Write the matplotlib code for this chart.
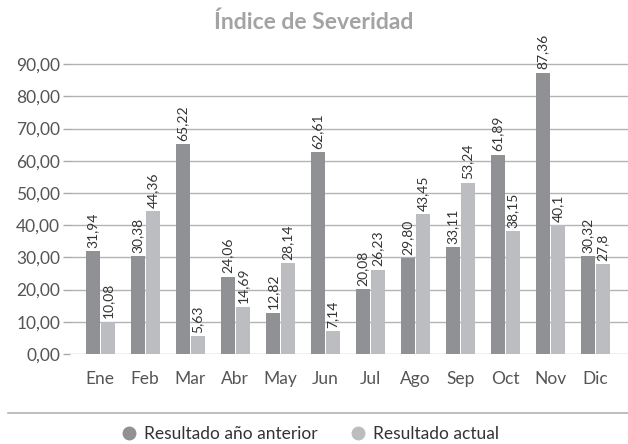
import matplotlib
matplotlib.use("Agg")
import matplotlib.pyplot as plt
from matplotlib.lines import Line2D
import numpy as np

months = ["Ene", "Feb", "Mar", "Abr", "May", "Jun", "Jul", "Ago", "Sep", "Oct", "Nov", "Dic"]
prev_year = [31.94, 30.38, 65.22, 24.06, 12.82, 62.61, 20.08, 29.80, 33.11, 61.89, 87.36, 30.32]
prev_labels = ["31,94", "30,38", "65,22", "24,06", "12,82", "62,61", "20,08", "29,80", "33,11", "61,89", "87,36", "30,32"]
current = [10.08, 44.36, 5.63, 14.69, 28.14, 7.14, 26.23, 43.45, 53.24, 38.15, 40.1, 27.8]
current_labels = ["10,08", "44,36", "5,63", "14,69", "28,14", "7,14", "26,23", "43,45", "53,24", "38,15", "40,1", "27,8"]
series_names = ["Resultado año anterior", "Resultado actual"]
yticks = [0, 10, 20, 30, 40, 50, 60, 70, 80, 90]

plt.rcParams['font.family'] = ['Lato', 'DejaVu Sans']

dark = "#909195"
light = "#bcbdc0"
txt = "#555555"

fig = plt.figure(figsize=(6.28, 4.44), dpi=100)
ax = fig.add_axes([70/628, 1-354/444, 1-70/628, (354-48)/444])

x = np.arange(len(months))
w = 0.31
ax.bar(x - w/2 - 0.01, prev_year, w, color=dark, zorder=3)
ax.bar(x + w/2 + 0.01, current, w, color=light, zorder=3)

for xi, v, lab in zip(x, prev_year, prev_labels):
    ax.text(xi - w/2 - 0.01, v + 1.0, lab, rotation=90, ha="center", va="bottom",
            fontsize=10, color="#333333")
for xi, v, lab in zip(x, current, current_labels):
    ax.text(xi + w/2 + 0.01, v + 1.0, lab, rotation=90, ha="center", va="bottom",
            fontsize=10, color="#333333")

ax.set_xlim(-0.67, 11.73)
ax.set_ylim(0, 95)
ax.set_yticks(yticks)
ax.set_yticklabels([f"{t:.2f}".replace(".", ",") for t in yticks], fontsize=12.5,
                   color=txt)
ax.set_xticks(x)
ax.set_xticklabels(months, fontsize=12.5, color=txt)
ax.tick_params(axis="x", length=0, pad=12)
ax.tick_params(axis="y", length=5, width=1, color="#aaaaaa", pad=2)
for t in yticks:
    ax.axhline(t, color="#b3b3b3", lw=1.0, zorder=1)
for s in ax.spines.values():
    s.set_visible(False)

fig.text(0.5, 1-22/444, "Índice de Severidad", ha="center", va="center",
         fontsize=16.5, fontweight="bold", color="#a3a3a3")

fig.add_artist(Line2D([8/628, 1.0], [1-413/444, 1-413/444], color="#b3b3b3", lw=1.2))

handles = [Line2D([], [], marker="o", ls="", markersize=9, color=dark),
           Line2D([], [], marker="o", ls="", markersize=9, color=light)]
fig.legend(handles, series_names, loc="center", bbox_to_anchor=(0.49, 1-434/444),
           ncol=2, frameon=False, handletextpad=0.1, columnspacing=1.6,
           handlelength=1.5, labelcolor="#333333", prop={"size": 12.5})

fig.savefig("out.png", dpi=100)
